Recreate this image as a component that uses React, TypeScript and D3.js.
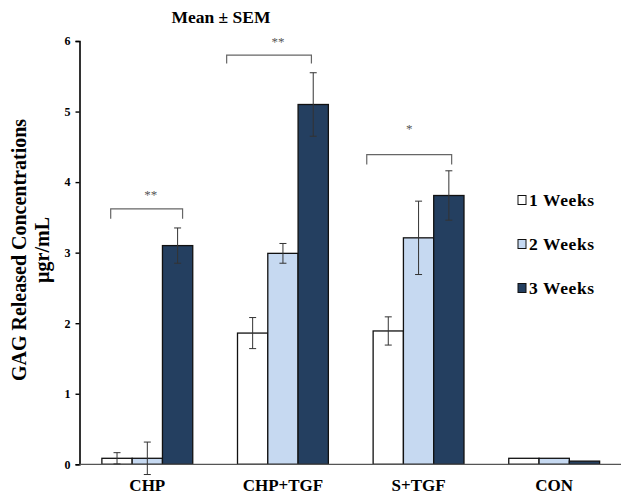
import React, { useEffect, useRef } from 'react';
import * as d3 from 'd3';

// groups and series
const categories = ['CHP', 'CHP+TGF', 'S+TGF', 'CON'];
const seriesNames = ['1 Weeks', '2 Weeks', '3 Weeks'];
const seriesColors = ['#ffffff', '#c6d9f1', '#243f60'];

// means, one array per week
const week1 = [0.085, 1.86, 1.89, 0.085];
const week2 = [0.085, 2.99, 3.21, 0.085];
const week3 = [3.1, 5.1, 3.81, 0.045];

// SEM (null = no error bar)
const week1Sem = [0.08, 0.22, 0.2, null];
const week2Sem = [0.23, 0.14, 0.52, null];
const week3Sem = [0.25, 0.45, 0.35, null];

const yTicks = [0, 1, 2, 3, 4, 5, 6];

// significance brackets: group, span as fraction of group step, levels in data units
const sigGroups = ['CHP', 'CHP+TGF', 'S+TGF'];
const sigLabels = ['**', '**', '*'];
const sigFrom = [0.23, 0.085, 0.118];
const sigTo = [0.76, 0.71, 0.744];
const sigTop = [3.62, 5.8, 4.39];
const sigBottom = [3.48, 5.68, 4.25];
const sigStarAt = [3.76, 5.93, 4.7];
const sigStarShift = [4, 9, 0];

const W = 621;
const H = 496;
const FONT = '"Liberation Serif", "Times New Roman", serif';

export default function App() {
    const ref = useRef(null);

    useEffect(() => {
        const svg = d3.select(ref.current);
        svg.selectAll('*').remove();

        const left = 79.5;
        const right = 622;
        const top = 41;
        const bottom = 464.3;

        const x = d3.scaleBand()
            .domain(categories)
            .range([left, right])
            .paddingInner(0.33)
            .paddingOuter(0.165);

        const xs = d3.scaleBand()
            .domain(seriesNames)
            .range([0, x.bandwidth()]);

        const y = d3.scaleLinear().domain([0, 6]).range([bottom, top]);

        const means = [week1, week2, week3];
        const sems = [week1Sem, week2Sem, week3Sem];

        const rows = [];
        categories.forEach((c, ci) => {
            seriesNames.forEach((s, si) => {
                rows.push({ c, s, si, v: means[si][ci], e: sems[si][ci] });
            });
        });

        // title
        svg.append('text')
            .attr('x', 221)
            .attr('y', 23)
            .attr('text-anchor', 'middle')
            .attr('font-family', FONT)
            .attr('font-weight', 'bold')
            .attr('font-size', 17.5)
            .text('Mean ± SEM');

        // y axis
        const yAxis = svg.append('g')
            .attr('transform', `translate(${left},0)`)
            .call(d3.axisLeft(y).tickValues(yTicks).tickSize(4).tickPadding(5).tickFormat(d3.format('d')));
        yAxis.select('.domain').attr('stroke', '#000').attr('stroke-width', 1.6);
        yAxis.selectAll('.tick line').attr('stroke', '#000').attr('stroke-width', 1.4);
        yAxis.selectAll('text')
            .attr('font-family', FONT)
            .attr('font-weight', 'bold')
            .attr('font-size', 12)
            .attr('fill', '#000');

        // y label
        const yl = svg.append('text')
            .attr('transform', `translate(0,250) rotate(-90)`)
            .attr('text-anchor', 'middle')
            .attr('font-family', FONT)
            .attr('font-weight', 'bold')
            .attr('font-size', 20);
        yl.append('tspan').attr('x', 0).attr('y', 26).text('GAG Released Concentrations');
        yl.append('tspan').attr('x', 0).attr('y', 49).text('µgr/mL');

        // bars
        svg.append('g')
            .selectAll('rect')
            .data(rows)
            .join('rect')
            .attr('x', d => x(d.c) + xs(d.s))
            .attr('y', d => y(d.v))
            .attr('width', xs.bandwidth())
            .attr('height', d => y(0) - y(d.v))
            .attr('fill', d => seriesColors[d.si])
            .attr('stroke', '#111')
            .attr('stroke-width', 1.3);

        // baseline
        svg.append('line')
            .attr('x1', left)
            .attr('x2', W)
            .attr('y1', y(0))
            .attr('y2', y(0))
            .attr('stroke', '#555')
            .attr('stroke-width', 1.2);

        // error bars
        const eb = svg.append('g')
            .attr('stroke', '#333')
            .attr('stroke-width', 1);
        const withErr = rows.filter(d => d.e !== null);
        const cx = d => x(d.c) + xs(d.s) + xs.bandwidth() / 2;
        eb.selectAll('line.v')
            .data(withErr)
            .join('line')
            .attr('class', 'v')
            .attr('x1', cx)
            .attr('x2', cx)
            .attr('y1', d => y(d.v + d.e))
            .attr('y2', d => y(d.v - d.e));
        eb.selectAll('line.hi')
            .data(withErr)
            .join('line')
            .attr('class', 'hi')
            .attr('x1', d => cx(d) - 3.5)
            .attr('x2', d => cx(d) + 3.5)
            .attr('y1', d => y(d.v + d.e))
            .attr('y2', d => y(d.v + d.e));
        eb.selectAll('line.lo')
            .data(withErr)
            .join('line')
            .attr('class', 'lo')
            .attr('x1', d => cx(d) - 3.5)
            .attr('x2', d => cx(d) + 3.5)
            .attr('y1', d => y(d.v - d.e))
            .attr('y2', d => y(d.v - d.e));

        // significance brackets
        const sig = sigGroups.map((g, i) => ({
            x0: x(g) - x.step() * x.paddingInner() / 2 + x.step() * sigFrom[i],
            x1: x(g) - x.step() * x.paddingInner() / 2 + x.step() * sigTo[i],
            yt: y(sigTop[i]),
            yb: y(sigBottom[i]),
            ys: y(sigStarAt[i]),
            shift: sigStarShift[i],
            label: sigLabels[i],
        }));
        svg.append('g')
            .selectAll('path')
            .data(sig)
            .join('path')
            .attr('d', d => `M${d.x0},${d.yb}V${d.yt}H${d.x1}V${d.yb}`)
            .attr('fill', 'none')
            .attr('stroke', '#666')
            .attr('stroke-width', 1.2);
        svg.append('g')
            .selectAll('text')
            .data(sig)
            .join('text')
            .attr('x', d => (d.x0 + d.x1) / 2 + d.shift)
            .attr('y', d => d.ys)
            .attr('text-anchor', 'middle')
            .attr('font-family', FONT)
            .attr('font-size', 13)
            .attr('fill', '#555')
            .text(d => d.label);

        // category labels
        svg.append('g')
            .selectAll('text')
            .data(categories)
            .join('text')
            .attr('x', d => x(d) + x.bandwidth() / 2)
            .attr('y', 491)
            .attr('text-anchor', 'middle')
            .attr('font-family', FONT)
            .attr('font-weight', 'bold')
            .attr('font-size', 17)
            .text(d => d);

        // legend
        const lg = svg.append('g')
            .selectAll('g')
            .data(seriesNames)
            .join('g')
            .attr('transform', (d, i) => `translate(518,${200 + i * 44})`);
        lg.append('rect')
            .attr('x', 0)
            .attr('y', -4.5)
            .attr('width', 8)
            .attr('height', 9)
            .attr('fill', (d, i) => seriesColors[i])
            .attr('stroke', '#111')
            .attr('stroke-width', 1);
        lg.append('text')
            .attr('x', 11)
            .attr('y', 6)
            .attr('font-family', FONT)
            .attr('font-weight', 'bold')
            .attr('font-size', 17.5)
            .attr('letter-spacing', 0.6)
            .text(d => d);
    }, []);

    return (
        <svg
            ref={ref}
            width={W}
            height={H}
            style={{ position: 'absolute', left: 0, top: 0, background: '#fff' }}
        />
    );
}
